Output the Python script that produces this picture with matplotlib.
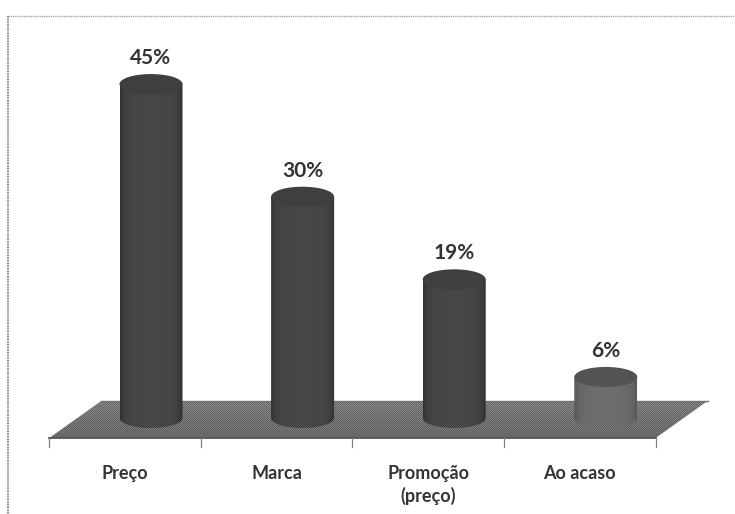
import numpy as np
import matplotlib
matplotlib.use('Agg')
import matplotlib.pyplot as plt
from matplotlib.colors import to_rgb
from matplotlib.patches import Ellipse, Polygon, PathPatch
from matplotlib.path import Path

categorias = ['Preço', 'Marca', 'Promoção\n(preço)', 'Ao acaso']
valores = [45, 30, 19, 6]
rotulos = ['45%', '30%', '19%', '6%']
cores_corpo = ['#414143', '#414143', '#414143', '#67676b']
cores_tampa = ['#3f3f41', '#3f3f41', '#3f3f41', '#535356']

W, H = 735, 514
px_cat = 151.6     # pixels per category
px_pct = 7.51      # pixels per percent
x0_px, y0_px = 151, 422   # pixel position of the first category at 0%

plt.rcParams['font.family'] = ['Lato', 'DejaVu Sans']

fig = plt.figure(figsize=(W/100, H/100), dpi=100)
ax = fig.add_axes([0, 0, 1, 1])
xlim = (-x0_px/px_cat, (W-x0_px)/px_cat)
ylim = (-(H-y0_px)/px_pct, y0_px/px_pct)
ax.axis('off')

# pixel offsets to data units
dx = lambda p: p/px_cat
dy = lambda p: p/px_pct

meia_larg = dx(31.5)
meia_alt = dy(10)
base = dy(4)          # cylinders stand slightly above the zero line
prof_x = dx(26)       # half depth of the floor
prof_y = dy(18.5)

# checker pattern for the halftone look of the fills
def textura(n, m, amp):
    xx, yy = np.meshgrid(np.arange(m), np.arange(n))
    return amp*(((xx + yy) % 2)*2 - 1)

# floor
esq = -0.5 - prof_x
dir_ = 3.5 - prof_x
cy = dy(2.5)
chao = Polygon([(esq, cy - prof_y), (dir_, cy - prof_y),
                (dir_ + 2*prof_x, cy + prof_y), (esq + 2*prof_x, cy + prof_y)],
               closed=True, fc='none', ec='none')
ax.add_patch(chao)
fundo = np.linspace(122, 104, 37)[:, None]   # top row comes first
g = fundo + textura(37, 660, 13)
im = ax.imshow(g, cmap='gray', vmin=0, vmax=255, aspect='auto', zorder=1,
               extent=(esq, dir_ + 2*prof_x, cy - prof_y, cy + prof_y),
               interpolation='nearest')
im.set_clip_path(chao)
ax.plot([esq, dir_], [cy - prof_y]*2, color='#555555', lw=1.3, zorder=2)
ax.plot([esq + 2*prof_x, dir_ + 2*prof_x], [cy + prof_y]*2, color='#707070', lw=1, zorder=2)

# category ticks under the floor
for i in range(5):
    xt = esq + i
    ax.plot([xt, xt], [cy - prof_y, cy - prof_y - dy(9)], color='#808080', lw=0.9, zorder=2)

# cylinders
for i, (v, c, t) in enumerate(zip(valores, cores_corpo, cores_tampa)):
    x1, x2 = i - meia_larg, i + meia_larg
    th = np.linspace(np.pi, 2*np.pi, 60)
    vx = np.r_[i + meia_larg*np.cos(th), x2, x1, x1]
    vy = np.r_[base + meia_alt*np.sin(th), v, v, base]
    clip = PathPatch(Path(np.c_[vx, vy]), fc='none', ec='none')
    ax.add_patch(clip)
    # horizontal shading, darker at the edges
    n = 63
    linhas = int((v - base + meia_alt)*px_pct) + 1
    s = np.linspace(-1, 1, n)
    tom = to_rgb(c)[0]*255
    sombra = tom + 6*(1 - s**2) - 16*s**8
    img = sombra[None, :] + textura(linhas, n, 9)
    im = ax.imshow(img, cmap='gray', vmin=0, vmax=255, aspect='auto', zorder=3,
                   extent=(x1, x2, base - meia_alt, v), interpolation='nearest')
    im.set_clip_path(clip)
    ax.add_patch(Ellipse((i, v), 2*meia_larg, 2*meia_alt, fc=t, ec='none', zorder=4))
    ax.text(i, v + dy(26), rotulos[i], ha='center', va='center', fontsize=15,
            color='#333333', fontweight='bold', zorder=5)

# category labels
for i, nome in enumerate(categorias):
    ax.text(esq + i + 0.5, -dy(43), nome, ha='center', va='top', fontsize=13,
            color='#333333', fontweight='bold', linespacing=1.32)

# dotted chart border
topo = dy(y0_px - 16)
xe = xlim[0] + dx(8)
ax.plot([xe, xlim[1]], [topo, topo], color='#a8a8a8', lw=1.0, ls=(0, (1, 0.6)))
ax.plot([xe, xe], [topo, ylim[0]], color='#888888', lw=1.3, ls=(0, (1, 0.5)))

ax.set_xlim(xlim)
ax.set_ylim(ylim)
fig.savefig('out.png', dpi=100, facecolor='white')
